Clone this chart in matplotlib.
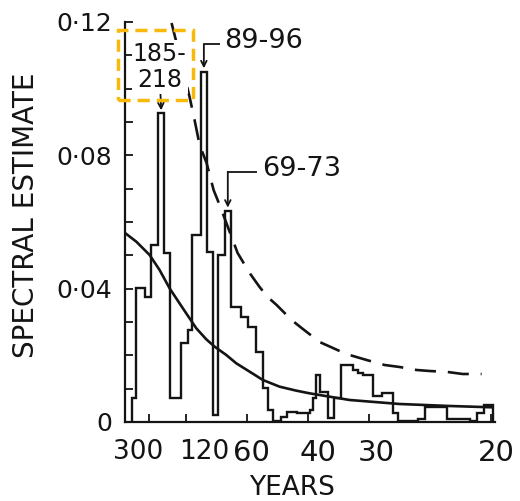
import matplotlib
matplotlib.use("Agg")
import matplotlib.pyplot as plt
from matplotlib.patches import Rectangle
from matplotlib.ticker import MultipleLocator
from matplotlib.transforms import ScaledTranslation

plt.rcParams['font.family'] = ['DejaVu Sans']

# Spectral estimates: frequency bin edges (cycles per year) and bin values
bin_edges = [0.00105, 0.00160, 0.00273, 0.00365, 0.00459, 0.00541, 0.00615,
             0.00775, 0.00865, 0.00922, 0.01042, 0.01124, 0.01209, 0.01277,
             0.01370, 0.01449, 0.01594, 0.01684, 0.01790, 0.01889, 0.01958,
             0.02026, 0.02141, 0.02213, 0.02350, 0.02527, 0.02572, 0.02619,
             0.02671, 0.02773, 0.02855, 0.02960, 0.03115, 0.03183, 0.03251,
             0.03388, 0.03511, 0.03661, 0.03730, 0.04003, 0.04098, 0.04399,
             0.04713, 0.04809, 0.04904, 0.05027]
spectrum = [0.0071, 0.0401, 0.0375, 0.0531, 0.0927, 0.0507, 0.0072, 0.0236,
            0.0276, 0.0561, 0.1051, 0.0511, 0.0021, 0.0501, 0.0633, 0.0345,
            0.0316, 0.0286, 0.0211, 0.0101, 0.0036, 0.0003, 0.0016, 0.0031,
            0.0027, 0.0036, 0.0072, 0.0141, 0.0091, 0.0012, 0.0072, 0.0171,
            0.0156, 0.0146, 0.0141, 0.0078, 0.0087, 0.0027, 0.0003, 0.0008,
            0.0045, 0.0010, 0.0003, 0.0027, 0.0051]

# Red-noise continuum
continuum_freq = [0.0, 0.00160, 0.00342, 0.00478, 0.00615, 0.00796, 0.00980,
                  0.01116, 0.01230, 0.01389, 0.01526, 0.01708, 0.01889,
                  0.02117, 0.02346, 0.02527, 0.03074, 0.03757, 0.04440, 0.05027]
continuum = [0.0568, 0.0541, 0.0501, 0.0456, 0.0401, 0.0341, 0.0281, 0.0248,
             0.0226, 0.0201, 0.0176, 0.0151, 0.0126, 0.0106, 0.0094, 0.0086,
             0.0066, 0.0054, 0.0048, 0.0044]

# Upper confidence limit of the continuum
upper_freq = [0.00642, 0.00710, 0.00888, 0.00956, 0.01025, 0.01120, 0.01216,
              0.01298, 0.01544, 0.01708, 0.01844, 0.01954, 0.02077, 0.02281,
              0.02418, 0.02664, 0.02937, 0.03074, 0.03306, 0.03552, 0.03757,
              0.03989, 0.04167, 0.04413, 0.04617, 0.04877]
upper_limit = [0.1197, 0.1137, 0.0975, 0.0906, 0.0831, 0.0777, 0.0696, 0.0651,
               0.0507, 0.0447, 0.0405, 0.0375, 0.0351, 0.0306, 0.0282, 0.0240,
               0.0213, 0.0201, 0.0186, 0.0171, 0.0165, 0.0156, 0.0153, 0.0150,
               0.0144, 0.0144]

tick_periods = [300, 120, 60, 40, 30, 20]
ytick_vals = [0, 0.04, 0.08, 0.12]
ytick_labels = ['0', '0·04', '0·08', '0·12']

peak_labels = ['185-\n218', '89-96', '69-73']
peak_freq = [0.00500, 0.01083, 0.01410]
peak_top = [0.0927, 0.1051, 0.0633]

ink = '#141414'
highlight = '#F9B90B'

fig = plt.figure(figsize=(5.2, 5.01), dpi=100)
ax = fig.add_axes([0.2396, 0.1577, 0.7123, 0.7984])
ax.set_xlim(0, 0.0506)
ax.set_ylim(0, 0.12)

ax.stairs(spectrum, bin_edges, baseline=0, color=ink, lw=1.7, zorder=3)
ax.plot(continuum_freq, continuum, color=ink, lw=1.9, zorder=3)
ax.plot(upper_freq, upper_limit, color=ink, lw=1.9, ls=(0, (8, 4.5)), zorder=3)

for s in ('top', 'right'):
    ax.spines[s].set_visible(False)
for s in ('left', 'bottom'):
    ax.spines[s].set_linewidth(1.6)
    ax.spines[s].set_color(ink)

ax.set_xticks([1.0 / p for p in tick_periods], [str(p) for p in tick_periods])
ax.set_yticks(ytick_vals, ytick_labels)
ax.yaxis.set_minor_locator(MultipleLocator(0.01))
ax.tick_params(axis='x', direction='in', length=6, width=1.3, labelsize=21,
               pad=12, colors=ink)
ax.tick_params(axis='y', which='both', direction='in', length=6, width=1.3,
               labelsize=18, pad=9, colors=ink)

# squeeze the crowded long-period labels and shift them apart
label_dx = {'300': -11, '120': 19, '60': 5, '40': 10, '30': 8, '20': 6}
for lab in ax.get_xticklabels():
    dx = label_dx.get(lab.get_text(), 0)
    lab.set_transform(lab.get_transform() +
                      ScaledTranslation(dx / 100, 0, fig.dpi_scale_trans))
    if lab.get_text() in ('300', '120'):
        lab.set_fontsize(19)

ax.set_xlabel('YEARS', fontsize=19, color=ink)
ax.xaxis.set_label_coords(0.452, -0.165)
ax.xaxis.label.set_va('center')
ax.set_ylabel('SPECTRAL ESTIMATE', fontsize=20, color=ink)
ax.yaxis.set_label_coords(-0.266, 0.5175)
ax.yaxis.label.set_va('center')

arrow = dict(arrowstyle='->', color=ink, lw=1.3, shrinkA=0, shrinkB=0,
             mutation_scale=10)

# 185-218 peak
f0, t0 = peak_freq[0], peak_top[0]
ax.text(f0 - 0.0002, t0 + 0.0138, peak_labels[0], ha='center', va='center',
        fontsize=17, color=ink, linespacing=1.15, zorder=4,
        bbox=dict(boxstyle='square,pad=0.05', fc='white', ec='none'))
ax.annotate('', xy=(f0, t0 + 0.0008), xytext=(f0 - 0.0001, t0 + 0.0058),
            arrowprops=arrow)

# 89-96 and 69-73 peaks with bracket arrows
for lab, f, t, dy, run, tdx in [(peak_labels[1], peak_freq[1], peak_top[1], 0.0083, 0.00215, 0.00283),
                               (peak_labels[2], peak_freq[2], peak_top[2], 0.0118, 0.00393, 0.00475)]:
    ax.plot([f + run, f], [t + dy, t + dy], color=ink, lw=1.3, zorder=4,
            solid_capstyle='butt')
    ax.annotate('', xy=(f, t + 0.0010), xytext=(f, t + dy), arrowprops=arrow)
    ax.text(f + tdx, t + dy + 0.0008, lab, ha='left', va='center',
            fontsize=19.5, color=ink)

# highlight box around the 185-218 label
box = Rectangle((-0.00089, 0.0966), 0.01025, 0.0210, fill=False,
                ec=highlight, lw=2.5, ls=(0, (3.5, 2.0)), clip_on=False,
                zorder=6)
ax.add_patch(box)

fig.savefig('out.png', dpi=100)
